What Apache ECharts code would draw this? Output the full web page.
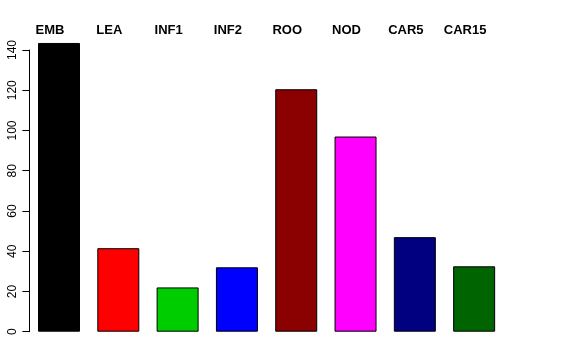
<!DOCTYPE html>
<html>
<head>
<meta charset="utf-8">
<script src="https://cdn.jsdelivr.net/npm/echarts@6/dist/echarts.min.js"></script>
<style>html,body{margin:0;padding:0;background:#fff;}#c{width:576px;height:360px;}</style>
</head>
<body>
<div id="c"></div>
<script>
var categories = ['EMB', 'LEA', 'INF1', 'INF2', 'ROO', 'NOD', 'CAR5', 'CAR15'];
var values = [143.5, 41.5, 22, 32, 120.5, 97, 47, 32.5];
var colors = ['#000000', '#FF0000', '#00CD00', '#0000FF', '#8B0000', '#FF00FF', '#000080', '#006400'];
var yTicks = [0, 20, 40, 60, 80, 100, 120, 140];

var chart = echarts.init(document.getElementById('c'), null, {renderer: 'canvas'});
chart.setOption({
  animation: false,
  backgroundColor: '#ffffff',
  grid: {left: 29.35, right: 72.2, top: 50, bottom: 28.3, containLabel: false},
  xAxis: {
    type: 'category',
    position: 'top',
    data: categories,
    axisLine: {show: false},
    axisTick: {show: false},
    axisLabel: {
      margin: 13,
      padding: [0, 18, 0, 0],
      fontFamily: 'Liberation Sans, Arial, sans-serif',
      fontWeight: 'bold',
      fontSize: 13,
      color: '#000'
    }
  },
  yAxis: {
    type: 'value',
    min: yTicks[0],
    max: yTicks[yTicks.length - 1],
    interval: 20,
    splitLine: {show: false},
    axisLine: {show: true, lineStyle: {color: '#000', width: 1}},
    axisTick: {show: true, length: 7, lineStyle: {color: '#000'}},
    axisLabel: {
      rotate: 90,
      margin: 11,
      fontFamily: 'Liberation Sans, Arial, sans-serif',
      fontSize: 12,
      color: '#000'
    }
  },
  series: [{
    type: 'bar',
    clip: false,
    barWidth: 42,
    data: values.map(function (v, i) {
      return {value: v, itemStyle: {color: colors[i]}};
    }),
    itemStyle: {borderColor: '#000', borderWidth: 1}
  }]
});
</script>
</body>
</html>
